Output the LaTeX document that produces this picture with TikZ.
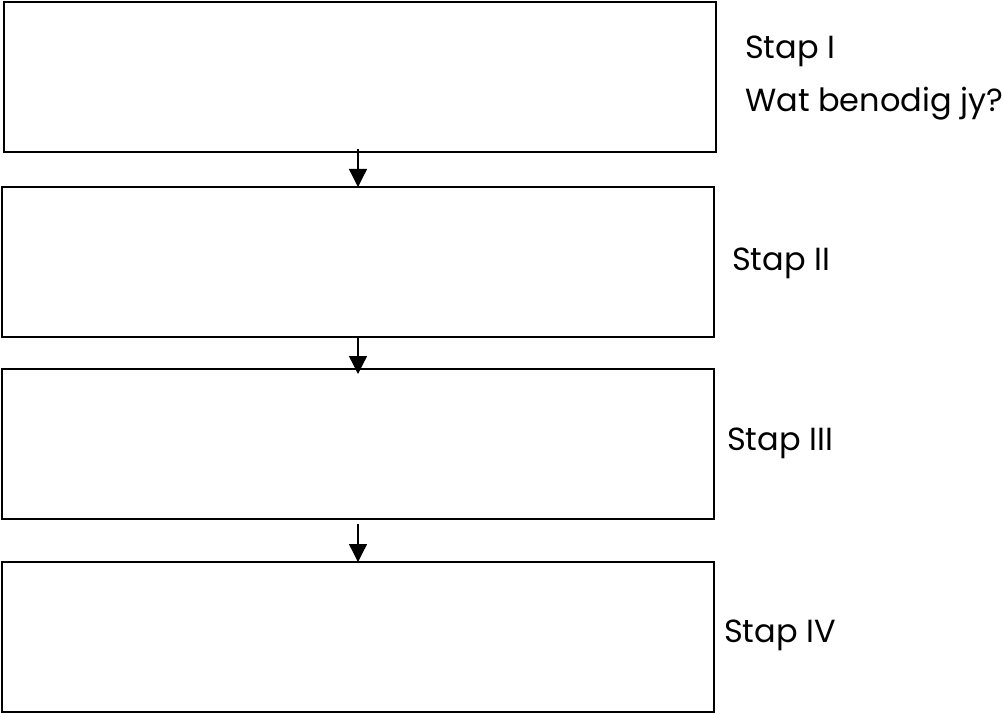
\documentclass[tikz,border=0pt]{standalone}
\usepackage{fontspec}
\setmainfont{Poppins}
\usetikzlibrary{arrows.meta}
\begin{document}
\begin{tikzpicture}[x=1pt,y=-1pt,
  stepbox/.style={draw,line width=1.3pt},
  lbl/.style={anchor=base west,inner sep=0pt,font=\fontsize{32}{36}\selectfont},
  conn/.style={line width=1.3pt,-{Triangle[width=18pt,length=18pt]}}]
\useasboundingbox (0,0) rectangle (1004,714);
\draw[stepbox] (4,2) rectangle (716,152);
\draw[stepbox] (2,187) rectangle (714,337);
\draw[stepbox] (2,369) rectangle (714,519);
\draw[stepbox] (2,562) rectangle (714,712);
\coordinate (a1) at (358,149);
\coordinate (b1) at (358,187);
\coordinate (a2) at (358,337);
\coordinate (b2) at (358,374);
\coordinate (a3) at (358,524);
\coordinate (b3) at (358,562);
\draw[conn] (a1) -- (b1);
\draw[conn] (a2) -- (b2);
\draw[conn] (a3) -- (b3);
\node[lbl] (t1) at (745,59) {Stap I};
\node[lbl] (t1b) at (745,112) {Wat benodig jy?};
\node[lbl] (t2) at (732,270) {Stap II};
\node[lbl] (t3) at (727,450) {Stap III};
\node[lbl] (t4) at (724,642) {Stap IV};
\end{tikzpicture}
\end{document}
